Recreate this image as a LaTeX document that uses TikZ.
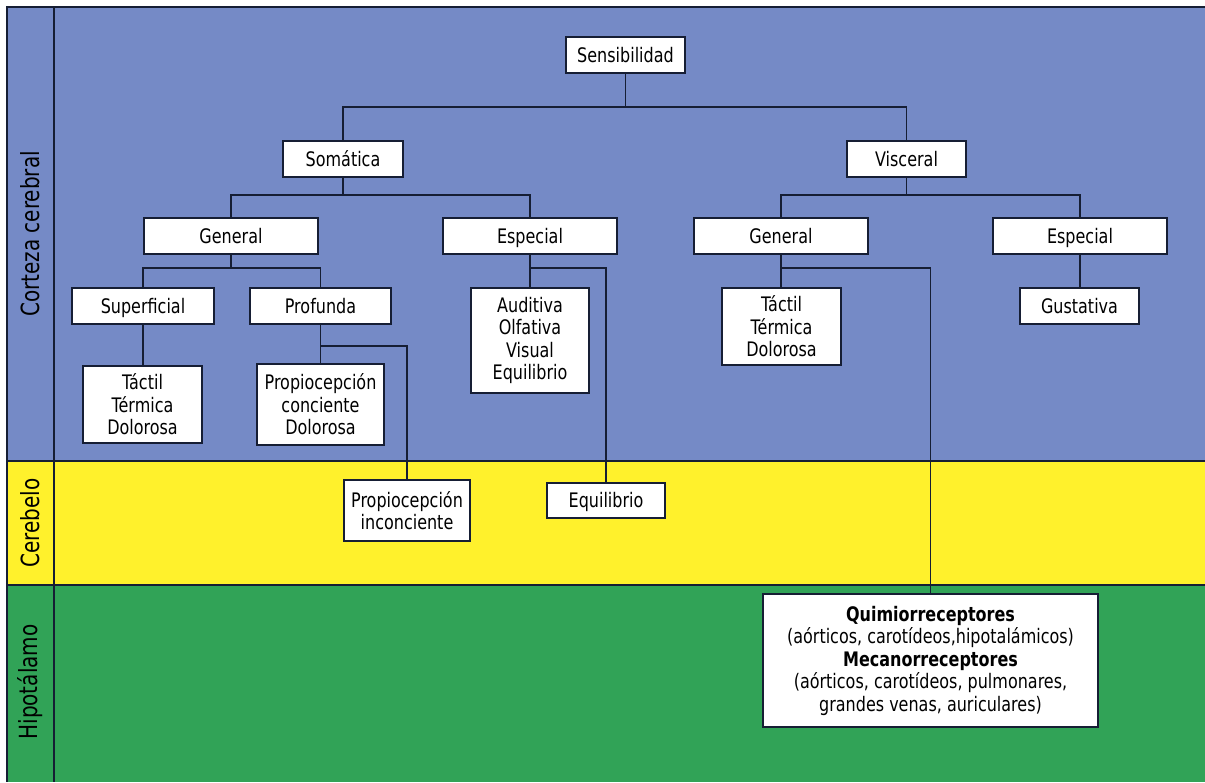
\documentclass[tikz,border=0pt]{standalone}
\usepackage{fontspec}
\setmainfont{DejaVu Sans}[FakeStretch=0.8]
\begin{document}
\begin{tikzpicture}[x=1pt,y=-1pt,
  wire/.style={draw=linecol, line width=1.5pt, line join=miter},
  box/.style={draw=linecol, line width=1.4pt, fill=white, inner sep=0pt,
    align=center, font=\fontsize{20}{22.5}\selectfont, text=black},
  oneline/.style={text height=14.6pt, text depth=0pt},
  band/.style={rotate=90, font=\fontsize{25}{28}\selectfont, text=black}]
\definecolor{bandblue}{RGB}{117,138,198}
\definecolor{bandyellow}{RGB}{255,241,44}
\definecolor{bandgreen}{RGB}{49,163,87}
\definecolor{linecol}{RGB}{22,30,52}

\useasboundingbox (0,0) rectangle (1205,782);
\fill[white] (0,0) rectangle (1205,782);

% background bands
\fill[bandblue]   (7,7)   rectangle (1205,461);
\fill[bandyellow] (7,461) rectangle (1205,585);
\fill[bandgreen]  (7,585) rectangle (1205,782);

% frame and band dividers
\draw[linecol, line width=2pt] (1205,7) -- (7,7) -- (7,782);
\draw[linecol, line width=1.4pt] (54,7) -- (54,782);
\draw[linecol, line width=1.4pt] (7,461) -- (1205,461);
\draw[linecol, line width=1.4pt] (7,585) -- (1205,585);

% band labels
\node[band] (lcor) at (30,234) {Corteza cerebral};
\node[band] (lcer) at (30,523) {Cerebelo};
\node[band] (lhip) at (30,682) {Hipotálamo};

% bus levels
\coordinate (b1) at (0,107);
\coordinate (b2) at (0,195);
\coordinate (b3) at (0,268);
\coordinate (b4) at (0,346);

% boxes
\node[box, oneline, minimum width=119pt, minimum height=36pt] (sens) at (625.5,55) {Sensibilidad};
\node[box, oneline, minimum width=120pt, minimum height=36pt] (som) at (343,159) {Somática};
\node[box, oneline, minimum width=119pt, minimum height=36pt] (visc) at (906.5,159) {Visceral};
\node[box, oneline, minimum width=174pt, minimum height=36pt] (gen1) at (231,236) {General};
\node[box, oneline, minimum width=174pt, minimum height=36pt] (esp1) at (530,236) {Especial};
\node[box, oneline, minimum width=174pt, minimum height=36pt] (gen2) at (781,236) {General};
\node[box, oneline, minimum width=174pt, minimum height=36pt] (esp2) at (1080,236) {Especial};
\node[box, oneline, minimum width=142pt, minimum height=36pt] (sup) at (143,306) {Superficial};
\node[box, oneline, minimum width=141pt, minimum height=36pt] (prof) at (320.5,306) {Profunda};
\node[box, minimum width=119pt, minimum height=77pt] (tac1) at (142.5,404.5) {Táctil\\Térmica\\Dolorosa};
\node[box, minimum width=127pt, minimum height=81pt] (propc) at (320.5,404.5) {Propiocepción\\conciente\\Dolorosa};
\node[box, minimum width=118pt, minimum height=105pt] (aud) at (530,340.5) {Auditiva\\Olfativa\\Visual\\Equilibrio};
\node[box, minimum width=119pt, minimum height=77pt] (tac2) at (781.5,326.5) {Táctil\\Térmica\\Dolorosa};
\node[box, oneline, minimum width=119pt, minimum height=36pt] (gus) at (1079.5,306) {Gustativa};
\node[box, minimum width=126pt, minimum height=61pt] (propi) at (407,510.5) {Propiocepción\\inconciente};
\node[box, oneline, minimum width=118pt, minimum height=35pt] (equi) at (606,500.5) {Equilibrio};
\node[box, minimum width=335pt, minimum height=133pt] (quim) at (930.5,660.5)
  {\textbf{Quimiorreceptores}\\(aórticos, carotídeos,hipotalámicos)\\\textbf{Mecanorreceptores}\\(aórticos, carotídeos, pulmonares,\\grandes venas, auriculares)};

% tree connectors
\draw[wire] (sens.south) -- (sens.south |- b1);
\draw[wire] (som.north) -- (som.north |- b1) -| (visc.north);

\draw[wire] (som.south) -- (som.south |- b2);
\draw[wire] (gen1.north) -- (gen1.north |- b2) -| (esp1.north);
\draw[wire] (visc.south) -- (visc.south |- b2);
\draw[wire] (gen2.north) -- (gen2.north |- b2) -| (esp2.north);

\draw[wire] (gen1.south) -- (gen1.south |- b3);
\draw[wire] (sup.north) -- (sup.north |- b3) -| (prof.north);
\draw[wire] (sup.south) -- (sup.south |- tac1.north);

\draw[wire] (prof.south) -- (prof.south |- propc.north);
\draw[wire] (prof.south |- b4) -| (propi.north);

\draw[wire] (esp1.south) -- (esp1.south |- aud.north);
\draw[wire] (esp1.south |- b3) -| (equi.north);

\draw[wire] (gen2.south) -- (gen2.south |- tac2.north);
\draw[wire] (gen2.south |- b3) -| (quim.north);

\draw[wire] (esp2.south) -- (esp2.south |- gus.north);
\end{tikzpicture}
\end{document}
